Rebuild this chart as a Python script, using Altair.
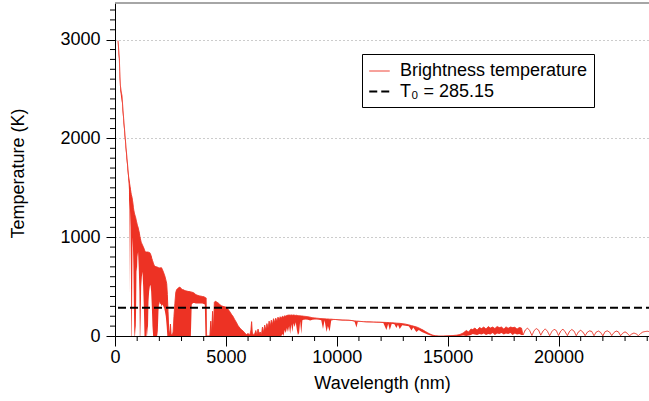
import altair as alt
import pandas as pd

# Brightness temperature spectrum, stored per spectral region as
# (wavelength nm, upper envelope K, lower envelope K) of the densely sampled curve.
uv_visible = [
    (135, 2990, 2950), (160, 2920, 2860), (195, 2810, 2760), (215, 2680, 2600),
    (240, 2540, 2480), (275, 2480, 2420), (315, 2430, 2360), (350, 2320, 2250),
    (390, 2200, 2140), (430, 2090, 2030), (465, 1995, 1940), (500, 1900, 1840),
    (540, 1800, 1740), (580, 1700, 1640), (615, 1610, 1540),
]
near_ir = [
    (630, 1590, 1480), (645, 1570, 400), (660, 1540, 1380), (680, 1510, 1250),
    (700, 1480, 1100), (720, 1450, 600), (735, 1430, 0), (755, 1415, 0),
    (770, 1400, 300), (790, 1370, 1000), (810, 1340, 900), (830, 1300, 700),
    (850, 1270, 350), (870, 1250, 0), (890, 1230, 0), (910, 1215, 100),
    (930, 1200, 0), (950, 1180, 250), (970, 1160, 700), (990, 1140, 650),
    (1010, 1120, 800), (1040, 1100, 850), (1070, 1070, 700), (1100, 1040, 450),
    (1120, 1010, 0), (1140, 990, 0), (1160, 970, 200), (1180, 950, 500),
    (1210, 935, 600), (1240, 920, 650), (1270, 905, 500), (1300, 890, 300),
    (1330, 870, 0), (1360, 855, 0), (1390, 850, 0), (1420, 850, 0),
    (1450, 850, 100), (1480, 850, 0), (1510, 848, 350), (1540, 846, 450),
    (1570, 843, 500), (1600, 830, 520), (1630, 810, 450), (1660, 785, 300),
    (1690, 765, 100), (1720, 745, 0), (1750, 725, 0), (1780, 712, 0),
    (1810, 705, 0), (1840, 702, 0), (1870, 700, 0), (1900, 698, 0),
    (1930, 695, 50), (1960, 692, 250), (1990, 690, 350),
]
short_ir = [
    (2020, 688, 320), (2060, 690, 330), (2100, 690, 300), (2140, 670, 320),
    (2180, 650, 300), (2220, 625, 280), (2250, 605, 250), (2290, 570, 200),
    (2330, 530, 100), (2360, 420, 0), (2390, 250, 0), (2420, 60, 0),
    (2460, 10, 0), (2500, 120, 0), (2530, 15, 0), (2580, 10, 0),
    (2620, 40, 0), (2660, 200, 0), (2700, 330, 0), (2740, 440, 0),
    (2780, 470, 0), (2830, 480, 0), (2880, 490, 0), (2930, 495, 0),
    (2980, 480, 0), (3030, 470, 0), (3080, 468, 0), (3130, 462, 0),
    (3180, 458, 0), (3230, 455, 0), (3280, 452, 0), (3330, 450, 0),
    (3380, 448, 0), (3420, 446, 0), (3460, 444, 320), (3520, 440, 335),
    (3580, 432, 335), (3640, 420, 330), (3700, 413, 330), (3760, 410, 330),
    (3820, 405, 330), (3880, 403, 330), (3940, 400, 328), (4000, 398, 325),
    (4050, 392, 320), (4080, 388, 0), (4110, 385, 0), (4130, 0, 0),
]
mid_ir = [
    (4280, 0, 0), (4320, 150, 0), (4360, 20, 0), (4400, 250, 0),
    (4440, 60, 0), (4480, 340, 0), (4520, 352, 0), (4580, 345, 0),
    (4650, 335, 0), (4720, 320, 0), (4800, 305, 0), (4870, 300, 0),
    (4950, 295, 0), (5030, 290, 0), (5100, 270, 0), (5180, 245, 0),
    (5250, 220, 0), (5330, 195, 0), (5400, 165, 0), (5480, 135, 0),
    (5550, 105, 0), (5630, 80, 0), (5700, 65, 0), (5780, 50, 0),
    (5850, 30, 0), (5930, 15, 0), (6000, 25, 0), (6080, 10, 0),
    (6130, 60, 0), (6160, 145, 0), (6190, 40, 0), (6230, 10, 0),
    (6300, 20, 0), (6350, 55, 0), (6400, 10, 0), (6450, 70, 0),
    (6500, 25, 0), (6550, 40, 0), (6600, 10, 0), (6650, 90, 0),
    (6700, 35, 0), (6750, 110, 0), (6800, 60, 0), (6850, 125, 0),
    (6900, 80, 0), (6950, 150, 0), (7000, 100, 0), (7050, 160, 0),
    (7100, 115, 0), (7150, 175, 0), (7200, 135, 0), (7250, 180, 0),
    (7300, 150, 0), (7350, 190, 0), (7400, 165, 0), (7450, 195, 0),
    (7500, 180, 0), (7550, 200, 20), (7600, 190, 0), (7650, 205, 60),
    (7700, 200, 30), (7750, 208, 80), (7800, 210, 40), (7850, 212, 100),
    (7900, 210, 20), (7950, 213, 120), (8000, 210, 40), (8050, 212, 130),
    (8100, 210, 90), (8150, 208, 140), (8200, 210, 60), (8250, 206, 10),
    (8300, 205, 30), (8350, 204, 150), (8400, 203, 20), (8450, 202, 160),
    (8500, 200, 165),
]
thermal_ir = [
    (8600, 198, 168), (8700, 195, 165), (8800, 190, 158), (8900, 185, 165),
    (9000, 183, 168), (9100, 180, 168), (9200, 178, 165), (9300, 176, 160),
    (9380, 175, 70), (9450, 174, 160), (9540, 172, 40), (9600, 172, 100),
    (9680, 170, 45), (9750, 170, 158), (9850, 168, 162), (9950, 167, 162),
    (10100, 165, 160), (10250, 163, 158), (10400, 162, 157), (10550, 160, 154),
    (10700, 156, 151), (10800, 153, 147), (10890, 150, 85), (10950, 150, 145),
    (11050, 148, 143), (11200, 145, 141), (11350, 144, 140), (11500, 143, 139),
    (11650, 142, 138), (11800, 141, 137), (11950, 140, 135), (12100, 138, 132),
    (12240, 137, 60), (12320, 136, 125), (12390, 135, 60), (12480, 134, 125),
    (12600, 132, 120), (12690, 130, 80), (12760, 129, 115), (12840, 128, 70),
    (12950, 125, 110), (13100, 120, 105), (13250, 112, 98), (13370, 105, 55),
    (13450, 100, 85), (13590, 92, 40), (13700, 82, 60), (13800, 70, 45),
    (13890, 60, 35), (14000, 45, 25), (14100, 32, 15), (14200, 20, 8),
    (14330, 8, 0), (14450, 3, 0), (14600, 0, 0), (14800, 0, 0),
    (15000, 2, 0), (15200, 4, 0), (15400, 8, 0), (15550, 15, 0),
    (15700, 30, 5), (15840, 55, 0), (15950, 40, 5), (16050, 70, 10),
    (16130, 65, 20), (16230, 80, 15), (16330, 60, 10), (16430, 85, 20),
    (16530, 75, 15), (16630, 90, 25), (16730, 70, 10), (16830, 95, 20),
    (16930, 80, 15), (17030, 90, 30), (17130, 75, 10), (17230, 95, 25),
    (17330, 85, 20), (17430, 90, 30), (17530, 70, 15), (17630, 92, 25),
    (17730, 78, 20), (17830, 90, 30), (17930, 85, 10), (18030, 88, 25),
    (18130, 70, 15), (18230, 85, 20), (18330, 80, 10),
]
# Interference fringes: a single clean trace, so both envelopes coincide.
far_ir_wavelength = [
    18400, 18500, 18600, 18700, 18800, 18900, 19000, 19100, 19200, 19300, 19400,
    19500, 19600, 19700, 19800, 19900, 20000, 20100, 20200, 20300, 20400, 20500,
    20600, 20700, 20800, 20900, 21000, 21100, 21200, 21300, 21400, 21500, 21600,
    21700, 21800, 21900, 22000, 22100, 22200, 22300, 22400, 22500, 22600, 22700,
    22800, 22900, 23000, 23100, 23200, 23300, 23400, 23500, 23600, 23700, 23800,
    23900, 24000, 24080,
]
far_ir_temperature = [
    10, 60, 80, 55, 5, 55, 75, 60, 8, 50, 72,
    48, 3, 45, 68, 55, 5, 50, 70, 42, 4, 48,
    66, 50, 3, 42, 58, 40, 4, 38, 52, 46, 3,
    40, 50, 36, 2, 44, 52, 40, 4, 35, 50, 42,
    3, 30, 42, 28, 2, 20, 30, 22, 3, 25, 40, 45,
    48, 45,
]

T0 = 285.15
series_names = ["Brightness temperature", "T\u2080 = 285.15"]
series_colors = ["#ED3224", "black"]

x_major = [0, 5000, 10000, 15000, 20000]
x_minor = [v for v in range(1000, 24001, 1000) if v % 5000]
y_major = [0, 1000, 2000, 3000]
y_minor = [v for v in range(100, 3301, 100) if v % 1000]
x_limit = 24080
y_limit = 3371

RED = series_colors[0]
FONT = "Liberation Sans"
PLOT_W, PLOT_H = 534, 333

rows = uv_visible + near_ir + short_ir + mid_ir + thermal_ir
rows += [(w, t, t) for w, t in zip(far_ir_wavelength, far_ir_temperature)]
spectrum = pd.DataFrame(rows, columns=["wl", "hi", "lo"])
spectrum["series"] = series_names[0]

reference = pd.DataFrame({
    "start": [spectrum["wl"].min()], "end": [spectrum["wl"].max()],
    "t": [T0], "series": [series_names[1]],
})
frame = pd.DataFrame({"x0": [0], "x1": [x_limit], "y": [y_limit]})
x_minor_df = pd.DataFrame({"v": x_minor})
y_minor_df = pd.DataFrame({"v": y_minor})

x_scale = alt.Scale(domain=[0, x_limit], nice=False, zero=False)
y_scale = alt.Scale(domain=[0, y_limit], nice=False)

x_axis = alt.Axis(
    title="Wavelength (nm)", values=x_major, format="d", tickSize=10,
    labelFlush=False, labelOverlap=False, grid=False,
    labelPadding=2, titleY=52, titleBaseline="alphabetic",
)
y_axis = alt.Axis(
    title="Temperature (K)", values=y_major, format="d", tickSize=9,
    labelOverlap=False, labelPadding=6,
    grid=True, gridDash=[1, 3], gridColor="#999999",
    titleX=-97, titleY=170, titleAngle=270, titleBaseline="middle", titleAlign="center",
)

legend = alt.Legend(
    title=None, orient="none", legendX=247, legendY=51,
    strokeColor="black", fillColor="white", padding=6,
    labelFontSize=18, labelFont=FONT, labelOffset=9, labelLimit=0,
    symbolType="stroke", symbolSize=420, rowPadding=0,
    labelExpr="datum.label + '\u2003\u2002\u2009'",
)
color = alt.Color("series:N", scale=alt.Scale(domain=series_names, range=series_colors), legend=legend)
dash = alt.StrokeDash("series:N", scale=alt.Scale(domain=series_names, range=[[1, 0], [8, 4]]), legend=legend)
width = alt.StrokeWidth("series:N", scale=alt.Scale(domain=series_names, range=[1, 2]), legend=legend)

band = alt.Chart(spectrum).mark_area(color=RED, opacity=1, strokeWidth=0).encode(
    x=alt.X("wl:Q", scale=x_scale, axis=x_axis),
    y=alt.Y("hi:Q", scale=y_scale, axis=y_axis),
    y2="lo:Q",
)
edge = alt.Chart(spectrum).mark_line(clip=True).encode(
    x="wl:Q", y="hi:Q", color=color, strokeDash=dash, strokeWidth=width,
)
t0_line = alt.Chart(reference).mark_rule().encode(
    x="start:Q", x2="end:Q", y="t:Q", color=color, strokeDash=dash, strokeWidth=width,
)
top_frame = alt.Chart(frame).mark_rule(color="#888888", strokeWidth=1.5).encode(
    x="x0:Q", x2="x1:Q", y="y:Q",
)
# Minor tick marks, positioned through the shared scales just outside the axes.
y_minor_ticks = alt.Chart(y_minor_df).mark_rule(color="black", strokeWidth=1).encode(
    y="v:Q", x=alt.value(-5), x2=alt.value(0),
)
x_minor_ticks = alt.Chart(x_minor_df).mark_rule(color="black", strokeWidth=1).encode(
    x="v:Q", y=alt.value(PLOT_H), y2=alt.value(PLOT_H + 5),
)

chart = alt.layer(band, edge, t0_line, top_frame, y_minor_ticks, x_minor_ticks).properties(
    width=PLOT_W, height=PLOT_H,
    autosize=alt.AutoSizeParams(type="none"),
    padding={"left": 115, "top": 3, "right": 0, "bottom": 65},
).configure(font=FONT).configure_view(stroke=None).configure_axis(
    labelFont=FONT, titleFont=FONT, labelFontSize=18, titleFontSize=18,
    titleFontWeight="normal", labelColor="black", titleColor="black",
    domainColor="black", tickColor="black", domainWidth=1, tickWidth=1,
)

chart.save("out.html", embed_options={"renderer": "svg", "actions": False})
